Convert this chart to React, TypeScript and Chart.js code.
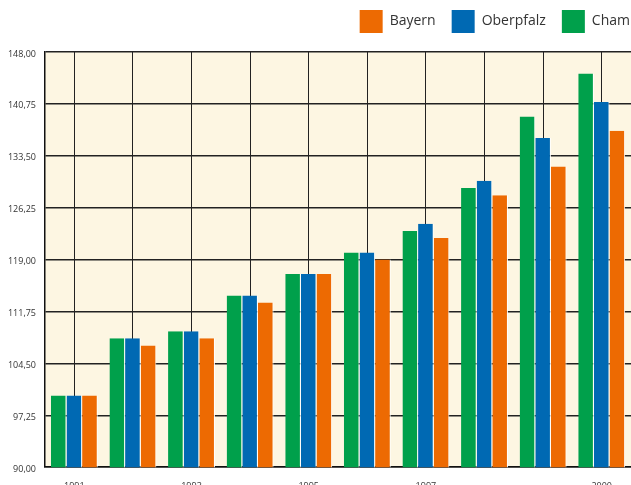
import React, { useEffect, useRef } from 'react';
import { Chart, registerables } from 'chart.js';

Chart.register(...registerables);

const years = ['1991', '1992', '1993', '1994', '1995', '1996', '1997', '1998', '1999', '2000'];
const shownYearLabels = ['1991', '1993', '1995', '1997', '2000'];
const chamValues = [100, 108, 109, 114, 117, 120, 123, 129, 139, 145];
const oberpfalzValues = [100, 108, 109, 114, 117, 120, 124, 130, 136, 141];
const bayernValues = [100, 107, 108, 113, 117, 119, 122, 128, 132, 137];
const yTickValues = [90, 97.25, 104.5, 111.75, 119, 126.25, 133.5, 140.75, 148];

const plotBackground = {
  id: 'plotBackground',
  beforeDraw(chart: any) {
    const { ctx, chartArea } = chart;
    if (!chartArea) return;
    ctx.save();
    ctx.fillStyle = '#fdf6e2';
    ctx.fillRect(chartArea.left, chartArea.top, chartArea.right - chartArea.left, chartArea.bottom - chartArea.top);
    ctx.restore();
  },
};

const legendSpacing = {
  id: 'legendSpacing',
  beforeLayout(chart: any) {
    const lg = chart.legend;
    if (lg && !lg._extraSpace) {
      const originalFit = lg.fit;
      lg.fit = function () {
        originalFit.call(this);
        this.height += 9;
      };
      lg._extraSpace = true;
    }
  },
};

export default function App() {
  const canvasRef = useRef<HTMLCanvasElement | null>(null);

  useEffect(() => {
    if (!canvasRef.current) return;
    const barBorder = { left: 0, right: 1, top: 0, bottom: 0 };
    const chart = new Chart(canvasRef.current, {
      type: 'bar',
      data: {
        labels: years,
        datasets: [
          { label: 'Cham', data: chamValues, backgroundColor: '#00a04b', borderColor: '#ffffff', borderWidth: barBorder },
          { label: 'Oberpfalz', data: oberpfalzValues, backgroundColor: '#0069b3', borderColor: '#ffffff', borderWidth: barBorder },
          { label: 'Bayern', data: bayernValues, backgroundColor: '#ed6a02', borderColor: '#ffffff', borderWidth: barBorder },
        ],
      },
      options: {
        animation: false,
        responsive: false,
        maintainAspectRatio: false,
        layout: { padding: { left: 0, right: 12, top: 0, bottom: 0 } },
        datasets: { bar: { categoryPercentage: 0.8, barPercentage: 1.0 } },
        plugins: {
          tooltip: { enabled: false },
          legend: {
            position: 'top',
            align: 'end',
            reverse: true,
            labels: {
              boxWidth: 23,
              boxHeight: 23,
              padding: 16,
              color: '#333333',
              font: { family: '"Open Sans", sans-serif', size: 14 },
              generateLabels: (c: any) =>
                Chart.defaults.plugins.legend.labels.generateLabels(c).map((l: any) => ({ ...l, lineWidth: 0, strokeStyle: 'rgba(0,0,0,0)' })),
            },
          },
        },
        scales: {
          x: {
            grid: { offset: false, color: '#222222', lineWidth: 1, drawTicks: false },
            border: { color: '#111111', width: 1.5 },
            ticks: {
              autoSkip: false,
              maxRotation: 0,
              padding: 14,
              color: '#333333',
              font: { family: '"Open Sans", sans-serif', size: 9 },
              callback: (_v: any, i: number) => (shownYearLabels.includes(years[i]) ? years[i] : ''),
            },
          },
          y: {
            min: 90,
            max: 148,
            afterBuildTicks: (s: any) => {
              s.ticks = yTickValues.map((v) => ({ value: v }));
            },
            afterFit: (s: any) => {
              s.width = 45;
            },
            grid: { color: '#222222', lineWidth: 1.5, drawTicks: false },
            border: { color: '#111111', width: 1.5 },
            ticks: {
              padding: 9,
              labelOffset: 2,
              color: '#333333',
              font: { family: '"Open Sans", sans-serif', size: 9 },
              callback: (v: any) => Number(v).toFixed(2).replace('.', ','),
            },
          },
          rightSpacer: {
            type: 'linear',
            position: 'right',
            display: true,
            min: 90,
            max: 148,
            grid: { display: false, drawTicks: false },
            border: { display: false },
            ticks: { display: false },
            afterFit: (s: any) => {
              s.width = 15;
            },
          },
        },
      },
      plugins: [plotBackground, legendSpacing],
    } as any);
    return () => chart.destroy();
  }, []);

  return (
    <div style={{ position: 'fixed', left: 0, top: 0, width: 631, height: 485, overflow: 'hidden', background: '#ffffff' }}>
      <div style={{ position: 'absolute', left: 0, top: -6, width: 658, height: 512 }}>
        <canvas ref={canvasRef} width={658} height={512} style={{ width: 658, height: 512, display: 'block' }} />
      </div>
    </div>
  );
}
